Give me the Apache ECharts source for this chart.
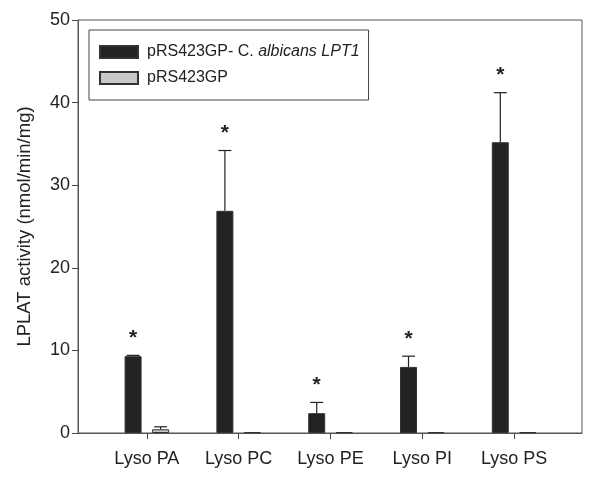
<!DOCTYPE html>
<html>
<head>
<meta charset="utf-8">
<script src="https://cdn.jsdelivr.net/npm/echarts@6/dist/echarts.min.js"></script>
<style>
  html, body { margin: 0; padding: 0; background: #fff; }
  #chart { width: 600px; height: 479px; }
</style>
</head>
<body>
<div id="chart"></div>
<script>
// categories and values
var categories = ['Lyso PA', 'Lyso PC', 'Lyso PE', 'Lyso PI', 'Lyso PS'];
var lpt1Values = [9.3, 26.9, 2.4, 8.0, 35.2];
var lpt1Errors = [0.1, 7.3, 1.3, 1.3, 6.0];
var vectorValues = [0.45, 0.1, 0.1, 0.1, 0.1];
var vectorErrors = [0.3, 0, 0, 0, 0];
var significant = [true, true, true, true, true];

var lpt1Name = 'pRS423GP- C. albicans LPT1';
var vectorName = 'pRS423GP';

var FONT = '"Liberation Sans", Arial, sans-serif';
var OFFSET = 13.75; // px from category centre to bar centre

var myChart = echarts.init(document.getElementById('chart'));

function pairs(arr) {
    return arr.map(function (v, i) { return [i, v]; });
}

// error bar (+ optional star) drawn from the bar top upward
function errorRenderer(values, errors, shift, withStar) {
    return function (params, api) {
        var i = api.value(0);
        var top = api.coord([i, values[i]]);
        var end = api.coord([i, values[i] + errors[i]]);
        var x = top[0] + shift;
        var children = [];
        if (errors[i] > 0) {
            children.push({
                type: 'line',
                shape: { x1: x, y1: top[1], x2: x, y2: end[1] },
                style: { stroke: '#222', lineWidth: 1.2 }
            });
            children.push({
                type: 'line',
                shape: { x1: x - 6.5, y1: end[1], x2: x + 6.5, y2: end[1] },
                style: { stroke: '#222', lineWidth: 1.2 }
            });
        }
        if (withStar && significant[i]) {
            children.push({
                type: 'text',
                style: {
                    x: x, y: end[1] - 17,
                    text: '*',
                    font: 'bold 21px ' + FONT,
                    fill: '#222',
                    align: 'center',
                    verticalAlign: 'middle'
                }
            });
        }
        return { type: 'group', children: children };
    };
}

var option = {
    animation: false,
    backgroundColor: '#fff',
    textStyle: { fontFamily: FONT },
    grid: {
        left: 78,
        right: 18,
        top: 20,
        bottom: 46,
        show: true,
        borderColor: '#555',
        borderWidth: 1
    },
    legend: {
        orient: 'vertical',
        left: 89,
        top: 30,
        padding: [14, 9, 14, 10],
        itemWidth: 38,
        itemHeight: 12,
        itemGap: 10,
        borderColor: '#444',
        borderWidth: 1,
        icon: 'rect',
        data: [lpt1Name, vectorName],
        formatter: function (name) {
            if (name === lpt1Name) {
                return '{n|pRS423GP- C. }{i|albicans LPT1}';
            }
            return '{n|' + name + '}';
        },
        textStyle: {
            fontSize: 16,
            color: '#222',
            padding: [0, 0, 0, 4],
            rich: {
                n: { fontSize: 16, color: '#222', fontFamily: FONT },
                i: { fontSize: 16, color: '#222', fontStyle: 'italic', fontFamily: FONT }
            }
        }
    },
    xAxis: {
        type: 'value',
        min: -0.75,
        max: 4.74,
        splitLine: { show: false },
        axisLine: { show: true, onZero: false, lineStyle: { color: '#555', width: 1 } },
        axisTick: {
            show: true,
            inside: false,
            length: 6,
            customValues: [0, 1, 2, 3, 4],
            lineStyle: { color: '#444' }
        },
        axisLabel: {
            customValues: [0, 1, 2, 3, 4],
            formatter: function (v) { return categories[Math.round(v)]; },
            fontSize: 18,
            color: '#222',
            margin: 17
        }
    },
    yAxis: {
        type: 'value',
        min: 0,
        max: 50,
        interval: 10,
        name: 'LPLAT activity (nmol/min/mg)',
        nameLocation: 'middle',
        nameGap: 44,
        nameTextStyle: { fontSize: 18.5, color: '#222' },
        splitLine: { show: false },
        axisLine: { show: true, onZero: false, lineStyle: { color: '#555', width: 1 } },
        axisTick: { show: true, inside: false, length: 6, lineStyle: { color: '#444' } },
        axisLabel: {
            fontSize: 18,
            color: '#222',
            margin: 8
        }
    },
    series: [
        {
            name: lpt1Name,
            type: 'bar',
            barWidth: 17,
            barGap: '62%',
            data: pairs(lpt1Values),
            itemStyle: { color: '#222', borderColor: '#333', borderWidth: 1 }
        },
        {
            name: vectorName,
            type: 'bar',
            barWidth: 17,
            barGap: '62%',
            data: pairs(vectorValues),
            itemStyle: { color: '#c8c8c8', borderColor: '#333', borderWidth: 1 }
        },
        {
            type: 'custom',
            name: 'lpt1Err',
            data: pairs(lpt1Values),
            renderItem: errorRenderer(lpt1Values, lpt1Errors, -OFFSET, true),
            z: 5
        },
        {
            type: 'custom',
            name: 'vectorErr',
            data: pairs(vectorValues),
            renderItem: errorRenderer(vectorValues, vectorErrors, OFFSET, false),
            z: 5
        }
    ]
};

myChart.setOption(option);
</script>
</body>
</html>
